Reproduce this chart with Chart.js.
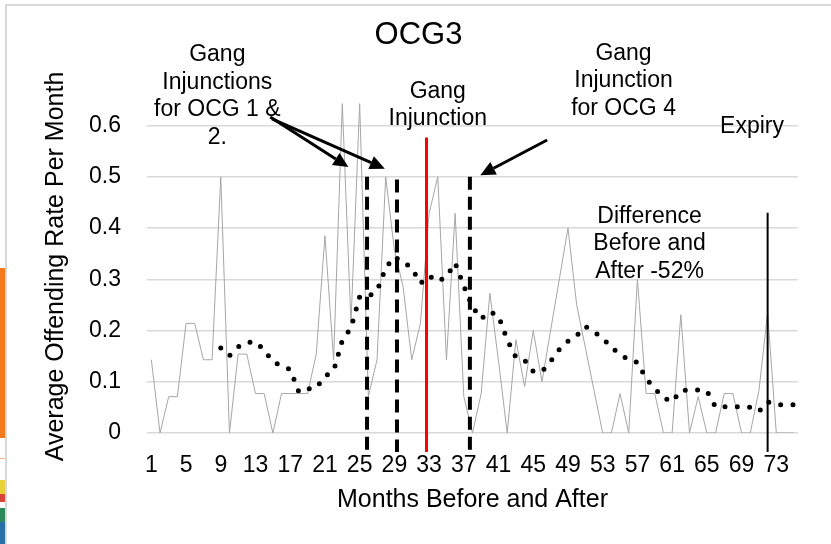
<!DOCTYPE html>
<html>
<head>
<meta charset="utf-8">
<script src="https://cdn.jsdelivr.net/npm/chart.js@4"></script>
<style>
    body { margin: 0; background: #fff; }
    #wrap { position: relative; width: 831px; height: 544px; overflow: hidden; }
    #frame { position: absolute; left: 5px; top: 4px; width: 900px; height: 600px; border: 2px solid #d9d9d9; }
    .bit { position: absolute; left: 0; width: 5px; }
    #chart { position: absolute; left: 0; top: 0; }
</style>
</head>
<body>
<div id="wrap">
    <div class="bit" style="top:268px;height:170px;background:#f47a20"></div>
    <div class="bit" style="top:458px;height:1px;background:#f6b48a"></div>
    <div class="bit" style="top:480px;height:14px;background:#e8d23a"></div>
    <div class="bit" style="top:494px;height:8px;background:#d8433a"></div>
    <div class="bit" style="top:508px;height:14px;background:#2e8a5a"></div>
    <div class="bit" style="top:522px;height:22px;background:#2a6fa8"></div>
    <div id="frame"></div>
    <canvas id="chart" width="831" height="544"></canvas>
</div>
<script>
// ─── Data ───
const MONTHS = [
    '1', '2', '3', '4', '5', '6', '7', '8', '9', '10', '11', '12', '13', '14', '15',
    '16', '17', '18', '19', '20', '21', '22', '23', '24', '25', '26', '27', '28', '29', '30',
    '31', '32', '33', '34', '35', '36', '37', '38', '39', '40', '41', '42', '43', '44', '45',
    '46', '47', '48', '49', '50', '51', '52', '53', '54', '55', '56', '57', '58', '59', '60',
    '61', '62', '63', '64', '65', '66', '67', '68', '69', '70', '71', '72', '73', '74', '75'
];

// monthly offending rate (thin grey line)
const OFFENDING_RATE = [
    0.143, 0, 0.071, 0.071, 0.214, 0.214, 0.143, 0.143, 0.5, 0,
    0.154, 0.154, 0.077, 0.077, 0, 0.077, 0.077, 0.077, 0.077, 0.154,
    0.385, 0.143, 0.643, 0.214, 0.643, 0.071, 0.143, 0.5, 0.357, 0.286,
    0.143, 0.214, 0.429, 0.5, 0.143, 0.429, 0.071, 0, 0.077, 0.273,
    0.14, 0, 0.182, 0.091, 0.2, 0.1, 0.2, 0.3, 0.4, 0.25,
    0.167, 0.083, 0, 0, 0.077, 0, 0.3, 0.077, 0.077, 0,
    0, 0.231, 0, 0.071, 0, 0, 0.077, 0.077, 0, 0,
    0.083, 0.235, 0, 0, 0
];

// dotted moving-average trend
const TREND = [
    null, null, null, null, null, null, null, null, 0.166, 0.151,
    0.168, 0.177, 0.178, 0.162, 0.139, 0.131, 0.124, 0.080, 0.086, 0.088,
    0.111, 0.121, 0.181, 0.205, 0.266, 0.267, 0.277, 0.322, 0.344, 0.334,
    0.322, 0.292, 0.307, 0.296, 0.305, 0.332, 0.287, 0.246, 0.223, 0.237,
    0.228, 0.182, 0.148, 0.142, 0.120, 0.120, 0.140, 0.163, 0.179, 0.190,
    0.208, 0.197, 0.186, 0.166, 0.155, 0.142, 0.138, 0.106, 0.087, 0.069,
    0.061, 0.083, 0.084, 0.084, 0.082, 0.051, 0.051, 0.051, 0.051, 0.050,
    0.042, 0.061, 0.055, 0.055, 0.055
];

const Y_TICKS = [0, 0.1, 0.2, 0.3, 0.4, 0.5, 0.6];

// event markers: month position, top value
const MARKER_MONTHS = [25.85, 29.3, 32.7, 37.7, 72.0];
const MARKER_TOPS = [0.5, 0.495, 0.577, 0.5, 0.43];
const MARKER_STYLES = [
    { color: '#000', width: 4, dash: [13, 7] },
    { color: '#000', width: 4, dash: [13, 7] },
    { color: '#ff0000', width: 3, dash: [] },
    { color: '#000', width: 4, dash: [13, 7] },
    { color: '#000', width: 2, dash: [] }
];
const MARKER_BOTTOM = -0.037;

// arrows: [fromMonth, fromValue, toMonth, toValue]
const ARROWS = [
    [14.7, 0.617, 23.7, 0.519],
    [14.9, 0.613, 27.9, 0.516],
    [46.6, 0.572, 38.9, 0.503]
];

// text notes: lines, centre month, value of first line
const NOTES = [
    { lines: ['Gang', 'Injunctions', 'for OCG 1 &', '2.'], month: 8.6, value: 0.738 },
    { lines: ['Gang', 'Injunction'], month: 34.0, value: 0.667 },
    { lines: ['Gang', 'Injunction', 'for OCG 4'], month: 55.4, value: 0.741 },
    { lines: ['Expiry'], month: 70.2, value: 0.598 },
    { lines: ['Difference', 'Before and', 'After -52%'], month: 58.4, value: 0.423 }
];

const TITLE = 'OCG3';
const FONT = '"Liberation Sans", Arial, sans-serif';

// ─── Annotation plugin ───
const annotations = {
    id: 'annotations',
    afterDatasetsDraw(chart) {
        const { ctx, scales: { x, y } } = chart;
        const px = m => x.getPixelForValue(m - 1);
        const py = v => y.getPixelForValue(v);
        ctx.save();

        MARKER_MONTHS.forEach((m, i) => {
            const st = MARKER_STYLES[i];
            ctx.beginPath();
            ctx.strokeStyle = st.color;
            ctx.lineWidth = st.width;
            ctx.lineCap = 'butt';
            ctx.setLineDash(st.dash);
            ctx.moveTo(px(m), py(MARKER_TOPS[i]));
            ctx.lineTo(px(m), py(MARKER_BOTTOM));
            ctx.stroke();
        });
        ctx.setLineDash([]);

        ARROWS.forEach(([m0, v0, m1, v1]) => {
            const x0 = px(m0), y0 = py(v0), x1 = px(m1), y1 = py(v1);
            const a = Math.atan2(y1 - y0, x1 - x0);
            const len = 15, half = 7;
            const bx = x1 - len * Math.cos(a), by = y1 - len * Math.sin(a);
            ctx.beginPath();
            ctx.strokeStyle = '#000';
            ctx.lineWidth = 3;
            ctx.moveTo(x0, y0);
            ctx.lineTo(bx, by);
            ctx.stroke();
            ctx.beginPath();
            ctx.fillStyle = '#000';
            ctx.moveTo(x1, y1);
            ctx.lineTo(bx + half * Math.sin(a), by - half * Math.cos(a));
            ctx.lineTo(bx - half * Math.sin(a), by + half * Math.cos(a));
            ctx.closePath();
            ctx.fill();
        });

        ctx.fillStyle = '#000';
        ctx.textAlign = 'center';
        ctx.textBaseline = 'middle';
        ctx.font = '23px ' + FONT;
        NOTES.forEach(n => {
            n.lines.forEach((t, i) => ctx.fillText(t, px(n.month), py(n.value) + i * 27.5));
        });

        // chart title, centred on the slide frame
        ctx.font = '31px ' + FONT;
        ctx.fillText(TITLE, chart.width / 2 + 3, 35);
        ctx.restore();
    }
};

new Chart(document.getElementById('chart'), {
    type: 'line',
    data: {
        labels: MONTHS,
        datasets: [
            {
                label: 'Trend',
                data: TREND,
                borderColor: '#000',
                borderWidth: 5,
                borderDash: [0, 12.3],
                borderCapStyle: 'round',
                pointRadius: 0,
                tension: 0,
                order: 0
            },
            {
                label: 'Offending rate',
                data: OFFENDING_RATE,
                borderColor: '#a6a6a6',
                borderWidth: 1,
                pointRadius: 0,
                tension: 0,
                order: 1
            }
        ]
    },
    options: {
        responsive: false,
        animation: false,
        layout: { padding: { left: 0, right: 33, top: 100, bottom: 0 } },
        plugins: {
            legend: { display: false },
            tooltip: { enabled: false },
            title: { display: false }
        },
        scales: {
            x: {
                type: 'category',
                offset: true,
                grid: { display: false },
                border: { display: false },
                ticks: {
                    autoSkip: false,
                    maxRotation: 0,
                    padding: 11,
                    color: '#000',
                    font: { family: FONT, size: 23 },
                    callback: (v, i) => (i % 4 === 0 ? MONTHS[i] : '')
                },
                title: {
                    display: true,
                    text: 'Months Before and After',
                    color: '#000',
                    font: { family: FONT, size: 25 },
                    padding: { top: 0, bottom: 29 }
                },
                afterFit: s => { s.height = 111; }
            },
            y: {
                min: 0,
                max: 0.65,
                grid: { color: '#d9d9d9', lineWidth: 1.5, drawTicks: false },
                border: { display: false },
                ticks: {
                    stepSize: 0.1,
                    padding: 26,
                    color: '#000',
                    font: { family: FONT, size: 23 }
                },
                afterBuildTicks: s => { s.ticks = Y_TICKS.map(v => ({ value: v })); },
                title: {
                    display: true,
                    text: 'Average Offending Rate Per Month',
                    color: '#000',
                    font: { family: FONT, size: 25 },
                    padding: { top: 41, bottom: 0 }
                },
                afterFit: s => { s.width = 147; }
            }
        }
    },
    plugins: [annotations]
});
</script>
</body>
</html>
